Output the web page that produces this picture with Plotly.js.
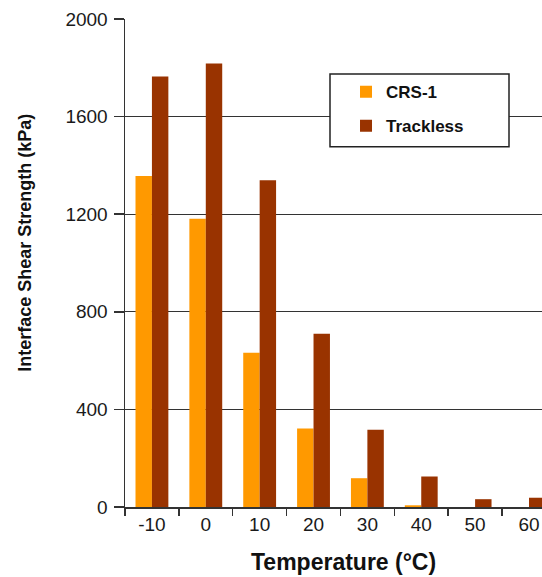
<!DOCTYPE html>
<html>
<head>
<meta charset="utf-8">
<script src="https://cdn.plot.ly/plotly-3.0.1.min.js"></script>
<style>
  html, body { margin: 0; padding: 0; background: #fff; }
  #chart { width: 542px; height: 577px; }
</style>
</head>
<body>
<div id="chart"></div>
<script>
// Data
const temperatures = ["-10", "0", "10", "20", "30", "40", "50", "60"];
const crs1Values = [1357, 1181, 632, 322, 118, 7, 0, 0];
const tracklessValues = [1764, 1818, 1339, 710, 317, 125, 32, 38];
const seriesNames = ["CRS-1", "Trackless"];
const yTicks = [0, 400, 800, 1200, 1600, 2000];
const xTitle = "Temperature (°C)";
const yTitle = "Interface Shear Strength (kPa)";

const tickFont = { family: "Liberation Sans, Arial, sans-serif", size: 19, color: "#1a1a1a" };

const traces = [
  {
    type: "bar", name: seriesNames[0], x: temperatures, y: crs1Values,
    marker: { color: "#FF9900" }, legendgroup: "a"
  },
  {
    type: "bar", name: seriesNames[1], x: temperatures, y: tracklessValues,
    marker: { color: "#993300" }, legendgroup: "b"
  }
];

const layout = {
  width: 542, height: 577,
  margin: { l: 125, r: 0, t: 19, b: 70, pad: 0 },
  paper_bgcolor: "#fff", plot_bgcolor: "#fff",
  barmode: "group", bargap: 0.39, bargroupgap: 0,
  showlegend: true,
  legend: {
    x: 0.53, y: 0.887, xanchor: "left", yanchor: "top",
    bgcolor: "rgba(0,0,0,0)", borderwidth: 0,
    tracegroupgap: 9,
    font: { family: "Liberation Sans, Arial, sans-serif", size: 17, color: "#111", weight: "bold" }
  },
  xaxis: {
    type: "category", range: [-0.5, 7.242], fixedrange: true,
    showline: true, linecolor: "#333", linewidth: 1.5,
    ticks: "outside", tickson: "boundaries", ticklen: 7, tickcolor: "#333", tickwidth: 1.5,
    showgrid: false, zeroline: false,
    tickfont: tickFont
  },
  yaxis: {
    range: [0, 2000], tickvals: yTicks, ticktext: yTicks.map(String),
    showline: true, linecolor: "#333", linewidth: 1.5,
    ticks: "outside", ticklen: 10, tickcolor: "#333", tickwidth: 1.5,
    showgrid: true, gridcolor: "#333", gridwidth: 1.3,
    zeroline: false, ticklabelstandoff: 2,
    tickfont: tickFont
  },
  shapes: [
    {
      type: "rect", xref: "paper", yref: "paper", layer: "above",
      x0: (330 - 125) / 417, x1: (509 - 125) / 417,
      y0: (507.5 - 147) / 488.5, y1: (507.5 - 74) / 488.5,
      fillcolor: "#fff", line: { color: "#222", width: 1.5 }
    }
  ],
  annotations: [
    {
      text: yTitle, textangle: -90, xref: "paper", yref: "paper",
      x: (25 - 125) / 417, y: (507.5 - 243) / 488.5, xanchor: "center", yanchor: "middle",
      showarrow: false,
      font: { family: "Liberation Sans, Arial, sans-serif", size: 18, color: "#111", weight: "bold" }
    },
    {
      text: xTitle, xref: "paper", yref: "paper",
      x: (343 - 125) / 417, y: (507.5 - 563) / 488.5, xanchor: "center", yanchor: "middle",
      showarrow: false,
      font: { family: "Liberation Sans, Arial, sans-serif", size: 23, color: "#111", weight: "bold" }
    }
  ]
};

Plotly.newPlot("chart", traces, layout, { displayModeBar: false, staticPlot: true });
</script>
</body>
</html>
